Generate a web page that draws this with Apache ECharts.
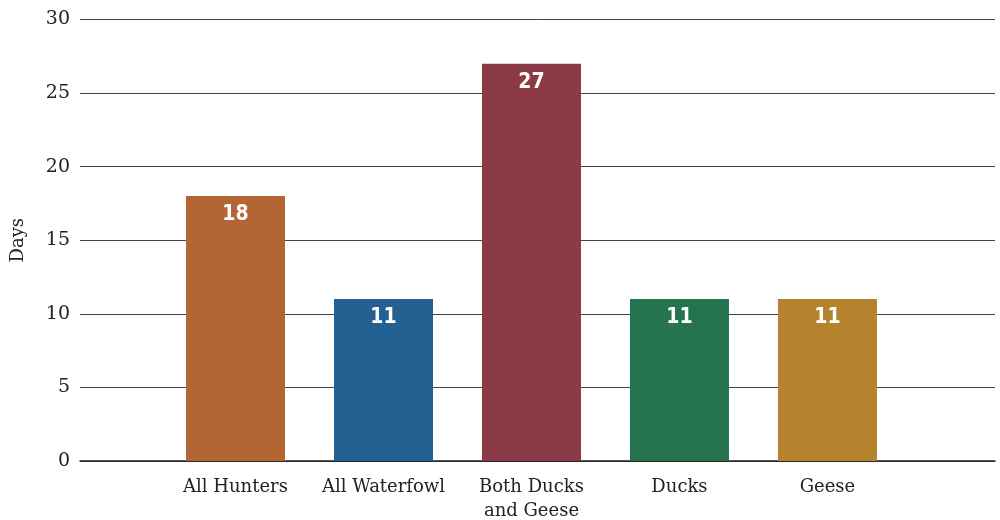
<!DOCTYPE html>
<html>
<head>
<meta charset="utf-8">
<script src="https://cdn.jsdelivr.net/npm/echarts@6/dist/echarts.min.js"></script>
<style>
  html, body { margin: 0; padding: 0; background: #fff; }
  #chart { width: 1000px; height: 520px; }
</style>
</head>
<body>
<div id="chart"></div>
<script>
// Average days hunted, by hunter group
const categories = ['All Hunters', 'All Waterfowl', 'Both Ducks\nand Geese', 'Ducks', 'Geese'];
const days = [18, 11, 27, 11, 11];
const barColors = ['#B36633', '#246092', '#8B3A46', '#267350', '#B5822E'];
const yTicks = { min: 0, max: 30, step: 5 };

const serif = '"DejaVu Serif", "Liberation Serif", serif';
const narrow = '"DejaVu Sans Condensed", "Liberation Sans Narrow", "Roboto", sans-serif';

const chart = echarts.init(document.getElementById('chart'), null, { renderer: 'canvas' });

chart.setOption({
  animation: false,
  backgroundColor: '#ffffff',
  grid: { left: 80, right: 5, top: 19.5, bottom: 59, containLabel: false, outerBoundsMode: 'none' },
  xAxis: {
    type: 'value',
    // bars sit at 0..4; the plot area extends past them on both sides
    min: -1.0507,
    max: 5.132,
    minInterval: 1,
    maxInterval: 1,
    splitLine: { show: false },
    axisTick: { show: false },
    axisLine: { show: true, lineStyle: { color: '#222', width: 1.5 } },
    axisLabel: {
      color: '#222',
      fontFamily: serif,
      fontSize: 18,
      lineHeight: 24,
      margin: 14,
      showMinLabel: false,
      showMaxLabel: false,
      formatter: v => (Number.isInteger(v) && categories[v] !== undefined) ? categories[v] : ''
    }
  },
  yAxis: {
    type: 'value',
    min: yTicks.min,
    max: yTicks.max,
    interval: yTicks.step,
    name: 'Days',
    nameLocation: 'middle',
    nameGap: 53,
    nameRotate: 90,
    nameTextStyle: { color: '#222', fontFamily: serif, fontSize: 18 },
    axisLine: { show: false },
    axisTick: { show: false },
    axisLabel: { color: '#222', fontFamily: serif, fontSize: 19, margin: 10 },
    splitLine: { show: true, lineStyle: { color: '#444', width: 1 } }
  },
  series: [{
    type: 'bar',
    barWidth: 99,
    data: days.map((v, i) => ({ value: [i, v], itemStyle: { color: barColors[i] } })),
    label: {
      show: true,
      position: 'insideTop',
      distance: 8,
      color: '#ffffff',
      fontFamily: narrow,
      fontWeight: 'bold',
      fontSize: 21,
      formatter: p => String(p.value[1])
    }
  }]
});
</script>
</body>
</html>
